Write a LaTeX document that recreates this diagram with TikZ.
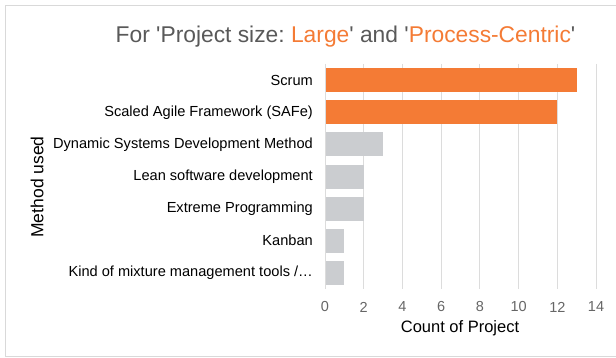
\documentclass[tikz,border=0pt]{standalone}
\usepackage{fontspec}
\setmainfont{Liberation Sans}[Ligatures=TeXOff]
\definecolor{accent}{HTML}{F47B35}
\definecolor{mutedbar}{HTML}{CBCDD0}
\definecolor{gridc}{HTML}{DCDCDC}
\definecolor{titlegray}{HTML}{595959}
\definecolor{tickgray}{HTML}{666666}
\definecolor{framec}{HTML}{D9D9D9}
\frenchspacing
\begin{document}
\begin{tikzpicture}[x=1pt,y=-1pt,
  catlabel/.style={anchor=east,font=\fontsize{14.6}{16}\selectfont,text=black,inner sep=0pt},
  ticklabel/.style={anchor=center,font=\fontsize{14.5}{16}\selectfont,text=tickgray,inner sep=0pt},
  axtitle/.style={font=\fontsize{16.5}{18}\selectfont,text=black,inner sep=0pt},
  hotbar/.style={fill=accent,draw=none},
  coldbar/.style={fill=mutedbar,draw=none},
  gridline/.style={draw=gridc,line width=1pt}]
\useasboundingbox (0,0) rectangle (616,358);
% card frame (open on the right)
\draw[framec,line width=1pt] (616,5.5) -- (5.5,5.5) -- (5.5,356) -- (616,356);
% title
\node[inner sep=0pt,font=\fontsize{22.8}{26}\selectfont,text=titlegray] (title) at (345.5,37)
  {For 'Project size: \textcolor{accent}{Large}' and '\textcolor{accent}{Process-Centric}'};
% vertical gridlines and tick labels, value v at x = 325 + 19.36 v
\foreach \v in {0,2,...,14}{
  \draw[gridline] ({325+19.36*\v},64) -- ({325+19.36*\v},289);
  \node[ticklabel] (tick\v) at ({325+19.36*\v},307) {\v};
}
% bars
\foreach \i/\val/\sty/\lab in {
  0/13/hotbar/Scrum,
  1/12/hotbar/Scaled Agile Framework (SAFe),
  2/3/coldbar/Dynamic Systems Development Method,
  3/2/coldbar/Lean software development,
  4/2/coldbar/Extreme Programming,
  5/1/coldbar/Kanban,
  6/1/coldbar/{Kind of mixture management tools /…}}{
  \path[\sty] (325.5,{80.3+32.08*\i-12}) rectangle ({325+19.36*\val},{80.3+32.08*\i+12});
  \node[catlabel] (cat\i) at (313,{80.3+32.08*\i}) {\lab};
}
% axis titles
\node[axtitle] (xtitle) at (460,328) {Count of Project};
\node[axtitle,rotate=90,font=\fontsize{17.5}{19}\selectfont] (ytitle) at (37,187) {Method used};
\end{tikzpicture}
\end{document}
